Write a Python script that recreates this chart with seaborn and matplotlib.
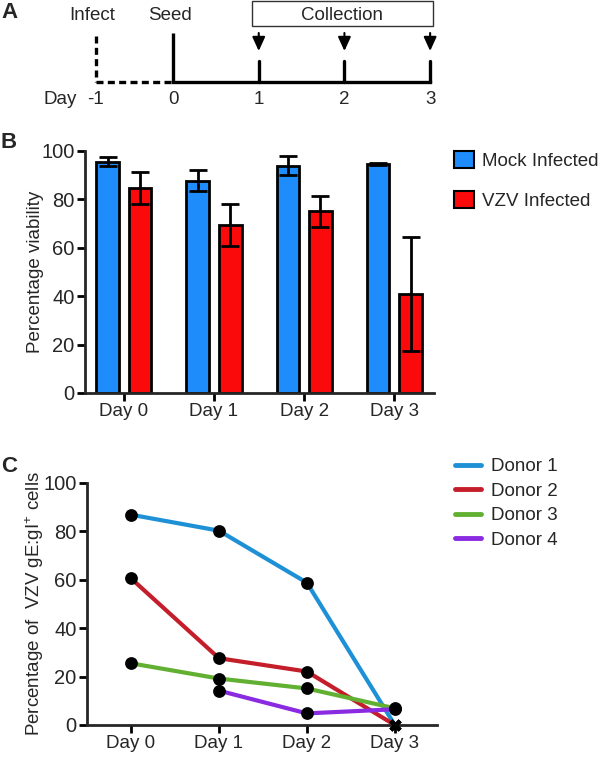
import numpy as np
import pandas as pd
import matplotlib
matplotlib.use('Agg')
import matplotlib.pyplot as plt
import seaborn as sns
from matplotlib.patches import Patch, Rectangle
from matplotlib.lines import Line2D

# Panel A: experiment timeline
timeline_days = [0, 1, 2, 3]
timeline_labels = ['0', '1', '2', '3']
infect_day = -0.9   # drawn a bit closer to day 0, as in the schematic
collection_days = [1, 2, 3]

# Panel B: viability
days = ['Day 0', 'Day 1', 'Day 2', 'Day 3']
groups = ['Mock Infected', 'VZV Infected']
mock_viability = [95.6, 87.8, 93.9, 94.8]
mock_err = [1.8, 4.4, 4.0, 0.4]
vzv_viability = [84.7, 69.3, 75.0, 40.9]
vzv_err = [6.7, 8.7, 6.3, 23.5]

# Panel C: gE:gI+ cells per donor
donors = ['Donor 1', 'Donor 2', 'Donor 3', 'Donor 4']
donor1 = [86.9, 80.3, 58.8, 0.0]
donor2 = [60.6, 27.6, 22.1, 0.0]
donor3 = [25.5, 19.2, 15.1, 6.9]
donor4 = [np.nan, 14.2, 4.8, 6.5]

bar_colors = ['#1E8CFA', '#FA0A0A']
donor_colors = ['#1E90D6', '#C41E2A', '#62B032', '#8A2BE2']

sns.set_style('ticks')
plt.rcParams['font.family'] = ['Liberation Sans', 'DejaVu Sans']
plt.rcParams['mathtext.fontset'] = 'custom'
plt.rcParams['mathtext.rm'] = 'Liberation Sans'
plt.rcParams['mathtext.default'] = 'regular'
plt.rcParams['font.size'] = 13.5

W, H = 600, 757
fig = plt.figure(figsize=(6, 7.57), dpi=100)

# ---------- A ----------
ax_a = fig.add_axes([0, 1 - 125 / H, 1, 125 / H])
ax_a.set_xlim(-2.019, 4.982)
ax_a.set_ylim(125, 0)
ax_a.axis('off')
lw_a = 2.4
dash = (0, (2.1, 1.3))
ax_a.plot([infect_day] * 2, [36, 82], color='black', lw=lw_a, ls=dash)
ax_a.plot([infect_day, timeline_days[0]], [82, 82], color='black', lw=lw_a, ls=dash)
ax_a.plot([timeline_days[0]] * 2, [33, 82], color='black', lw=lw_a, solid_capstyle='butt')
ax_a.plot([timeline_days[0], timeline_days[-1]], [82, 82], color='black', lw=lw_a,
          solid_capstyle='projecting')
for d in collection_days:
    ax_a.plot([d, d], [61, 82], color='black', lw=lw_a)
    ax_a.annotate('', xy=(d, 51), xytext=(d, 33),
                  arrowprops=dict(arrowstyle='-|>,head_length=0.7,head_width=0.32',
                                  color='black', lw=1.5, mutation_scale=12,
                                  shrinkA=0, shrinkB=0))
box_left = min(collection_days) - 0.08
box_right = max(collection_days) + 0.03
ax_a.add_patch(Rectangle((box_left, 1), box_right - box_left, 25, fill=False, lw=1.0,
                         edgecolor='#333333'))
ax_a.text((box_left + box_right) / 2, 15, 'Collection', ha='center', va='center')
ax_a.text(infect_day - 0.04, 15, 'Infect', ha='center', va='center')
ax_a.text(timeline_days[0] - 0.03, 15, 'Seed', ha='center', va='center')
ax_a.text(infect_day - 0.42, 100, 'Day', ha='center', va='center')
ax_a.text(infect_day, 100, '-1', ha='center', va='center')
for d, lab in zip(timeline_days, timeline_labels):
    ax_a.text(d, 100, lab, ha='center', va='center')

# ---------- B ----------
df_b = pd.DataFrame({
    'Day': days * 2,
    'Viability': mock_viability + vzv_viability,
    'Group': [groups[0]] * 4 + [groups[1]] * 4,
})
ax_b = fig.add_axes([85 / W, 1 - 393 / H, 349 / W, 242 / H])
sns.barplot(data=df_b, x='Day', y='Viability', hue='Group', palette=bar_colors,
            width=0.72, gap=0.3, saturation=1, edgecolor='black', linewidth=2,
            errorbar=None, legend=False, ax=ax_b)
for cont, err in zip(ax_b.containers, [mock_err, vzv_err]):
    xs = [b.get_x() + b.get_width() / 2 for b in cont]
    ys = [b.get_height() for b in cont]
    ax_b.errorbar(xs, ys, yerr=err, fmt='none', ecolor='black', elinewidth=2,
                  capsize=6.5, capthick=2, zorder=5)
ax_b.set_xlim(-0.43, 3.44)
ax_b.set_ylim(0, 100)
ax_b.set_yticks(range(0, 101, 20))
ax_b.set_xlabel('')
ax_b.set_ylabel('Percentage viability', fontsize=13.5)
ax_b.yaxis.set_label_coords(-0.117, 0.5)
handles_b = [Patch(facecolor=c, edgecolor='black', lw=1.5, label=g) for c, g in zip(bar_colors, groups)]
ax_b.legend(handles=handles_b, loc='upper left', bbox_to_anchor=(454 / W, 1 - 151 / H),
            bbox_transform=fig.transFigure, frameon=False, handlelength=1.05, handleheight=1.05,
            handletextpad=0.45, labelspacing=1.1, borderpad=0, borderaxespad=0, fontsize=13.5)

# ---------- C ----------
df_c = pd.DataFrame({
    'Day': days * 4,
    'Percent': donor1 + donor2 + donor3 + donor4,
    'Donor': [dn for dn in donors for _ in days],
}).dropna()
ax_c = fig.add_axes([87 / W, 1 - 725 / H, 350 / W, 242 / H])
sns.lineplot(data=df_c, x='Day', y='Percent', hue='Donor', palette=donor_colors,
             lw=3, legend=False, ax=ax_c)
sns.scatterplot(data=df_c[df_c['Percent'] > 0], x='Day', y='Percent', color='black',
                s=85, linewidth=0, zorder=4, legend=False, ax=ax_c)
sns.scatterplot(data=df_c[df_c['Percent'] == 0], x='Day', y='Percent', color='black',
                marker='X', s=80, linewidth=0, zorder=4, legend=False, clip_on=False, ax=ax_c)
ax_c.set_xlim(-0.5, 3.48)
ax_c.set_ylim(0, 100)
ax_c.set_yticks(range(0, 101, 20))
ax_c.set_xlabel('')
ax_c.set_ylabel('Percentage of  VZV gE:gI$^{+}$ cells', fontsize=13.5)
ax_c.yaxis.set_label_coords(-0.117, 0.5)
handles_c = [Line2D([], [], color=c, lw=3.5, label=dn) for c, dn in zip(donor_colors, donors)]
ax_c.legend(handles=handles_c, loc='upper left', bbox_to_anchor=(455 / W, 1 - 458 / H),
            bbox_transform=fig.transFigure, frameon=False, handlelength=1.4,
            handletextpad=0.5, labelspacing=0.4, borderpad=0, borderaxespad=0, fontsize=13.5)

for ax in (ax_b, ax_c):
    sns.despine(ax=ax)
    for s in ('left', 'bottom'):
        ax.spines[s].set_linewidth(2)
    ax.tick_params(axis='both', width=2, length=5.5, pad=2, color='black')
    ax.tick_params(axis='x', labelsize=13.5)
    ax.tick_params(axis='y', labelsize=14.5)

fig.text(1 / W, 1 - 13 / H, 'A', fontsize=16, fontweight='bold', va='center')
fig.text(1 / W, 1 - 142 / H, 'B', fontsize=16, fontweight='bold', va='center')
fig.text(1 / W, 1 - 466 / H, 'C', fontsize=16, fontweight='bold', va='center')

fig.savefig('out.png', dpi=100)
